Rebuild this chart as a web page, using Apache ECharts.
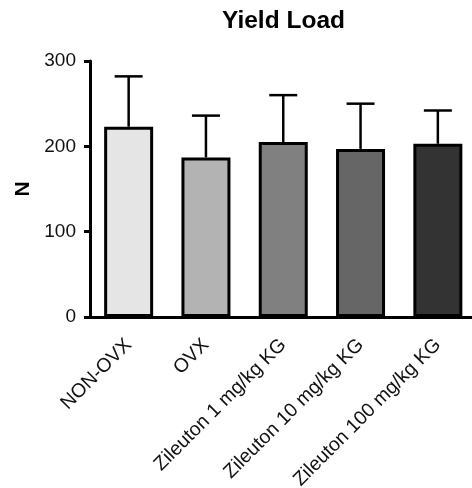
<!DOCTYPE html>
<html>
<head>
<meta charset="utf-8">
<script src="https://cdn.jsdelivr.net/npm/echarts@6/dist/echarts.min.js"></script>
<style>
  html, body { margin: 0; padding: 0; background: #fff; }
  #chart { width: 472px; height: 488px; }
</style>
</head>
<body>
<div id="chart"></div>
<script>
// Yield load per treatment group: mean and upper SD
const categories = ['NON-OVX', 'OVX', 'Zileuton 1 mg/kg KG', 'Zileuton 10 mg/kg KG', 'Zileuton 100 mg/kg KG'];
const means = [223, 187, 205, 197, 203];
const sd = [59, 49, 55, 53, 39];
const barColors = ['#e5e5e5', '#b3b3b3', '#808080', '#666666', '#333333'];
const yTicks = [0, 100, 200, 300];

const FONT = '"Liberation Sans", Arial, Helvetica, sans-serif';
const chart = echarts.init(document.getElementById('chart'), null, { renderer: 'canvas' });

chart.setOption({
  animation: false,
  backgroundColor: '#ffffff',
  title: {
    text: 'Yield Load',
    left: 217,
    top: 4,
    textStyle: { fontFamily: FONT, fontSize: 24.5, fontWeight: 'bold', color: '#000' }
  },
  grid: {
    left: 90, right: -4.5, top: 61, bottom: 171,
    containLabel: false,
    outerBoundsMode: 'none'
  },
  xAxis: {
    type: 'category',
    data: categories,
    axisLine: { lineStyle: { color: '#000', width: 3 } },
    axisTick: { alignWithLabel: true, length: 6, lineStyle: { color: '#000', width: 3 } },
    axisLabel: { rotate: 45, margin: 25, fontFamily: FONT, fontSize: 19.5, color: '#111', interval: 0 }
  },
  yAxis: {
    type: 'value',
    min: yTicks[0],
    max: yTicks[yTicks.length - 1],
    interval: 100,
    name: 'N',
    nameLocation: 'middle',
    nameRotate: 90,
    nameGap: 56,
    nameTextStyle: { fontFamily: FONT, fontSize: 21, fontWeight: 'bold', color: '#000' },
    splitLine: { show: false },
    axisLine: { show: true, lineStyle: { color: '#000', width: 3 } },
    axisTick: { show: true, length: 6, lineStyle: { color: '#000', width: 3 } },
    axisLabel: { margin: 14, fontFamily: FONT, fontSize: 19, color: '#111' }
  },
  series: [
    {
      type: 'custom',
      z: 1,
      renderItem: function (params, api) {
        const idx = api.value(0);
        const top = api.coord([idx, api.value(1) + api.value(2)]);
        const base = api.coord([idx, api.value(1)]);
        const half = 14;
        const style = { stroke: '#000', lineWidth: 2.5, fill: null };
        return {
          type: 'group',
          children: [
            { type: 'line', shape: { x1: base[0], y1: base[1], x2: top[0], y2: top[1] }, style: style },
            { type: 'line', shape: { x1: top[0] - half, y1: top[1], x2: top[0] + half, y2: top[1] }, style: style }
          ]
        };
      },
      data: means.map((m, i) => [i, m, sd[i]])
    },
    {
      type: 'bar',
      z: 2,
      barWidth: 49,
      data: means.map((m, i) => ({
        value: m,
        itemStyle: { color: barColors[i], borderColor: '#000', borderWidth: 3 }
      }))
    }
  ]
});
</script>
</body>
</html>
